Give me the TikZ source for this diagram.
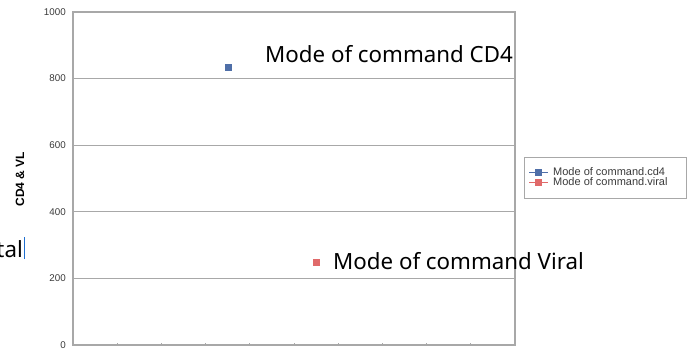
\documentclass[tikz,border=0pt]{standalone}
\usepackage{fontspec}
\setmainfont{Noto Sans}
\newfontfamily\axisfont{Liberation Sans}
\usetikzlibrary{positioning}
\definecolor{cdblue}{HTML}{4F6FA8}
\definecolor{viralred}{HTML}{E06A6A}
\definecolor{gridgray}{HTML}{A8A8A8}
\definecolor{ticktext}{HTML}{3A3A3A}
\definecolor{cursorblue}{HTML}{1F6FD0}
\tikzset{
  ticklabel/.style={font=\axisfont\fontsize{9.8}{11}\selectfont, text=ticktext, anchor=east, inner sep=0pt},
  legendtext/.style={font=\axisfont\fontsize{11}{13}\selectfont, text=ticktext, anchor=west, inner sep=0pt},
  bigtext/.style={font=\fontsize{22.3}{26}\selectfont, inner sep=0pt},
  datamark/.style={minimum size=7pt, inner sep=0pt}
}
\begin{document}
\begin{tikzpicture}[x=1pt,y=1pt]
	\useasboundingbox (0,0) rectangle (687,349);
	% plot area
	\foreach \v in {1,...,4}
		\draw[gridgray, line width=1pt] (73,4+66.6*\v) -- (515,4+66.6*\v);
	\draw[gridgray, line width=1.2pt] (73,4) rectangle (515,337);
	\foreach \t in {1,...,9}
		\draw[gridgray, line width=0.8pt] (73+44.2*\t,4) -- (73+44.2*\t,6.5);
	\foreach \v in {0,...,5}
		\node[ticklabel] (tick\v) at (66,4+66.6*\v) {\number\numexpr200*\v\relax};
	\node[font=\axisfont\bfseries\fontsize{12}{14}\selectfont, rotate=90, text=black] (ytitle) at (20,170) {CD4 \& VL};
	% data points
	\node[datamark, fill=cdblue] (cdfour) at (228,282) {};
	\node[datamark, fill=viralred] (viral) at (316,87) {};
	\node[bigtext, anchor=base west] (cdlabel) at (265,287) {Mode of command CD4};
	\node[bigtext, anchor=base west] (virlabel) at (333,80) {Mode of command Viral};
	% legend
	\draw[gridgray, line width=0.8pt] (524,151) rectangle (686,192);
	\draw[cdblue, line width=0.8pt] (529,177) -- (548,177);
	\node[datamark, fill=cdblue] (legcd) at (538.5,177) {};
	\node[legendtext] (legcdtext) at (553,177) {Mode of command.cd4};
	\draw[viralred, line width=0.8pt] (529,167) -- (548,167);
	\node[datamark, fill=viralred] (legvir) at (538.5,167) {};
	\node[legendtext] (legvirtext) at (553,167) {Mode of command.viral};
	% cut-off text on the left
	\node[bigtext, anchor=base east] (total) at (23,92) {tal};
	\draw[cursorblue, line width=1.5pt] (24.5,90) -- (24.5,112);
\end{tikzpicture}
\end{document}
